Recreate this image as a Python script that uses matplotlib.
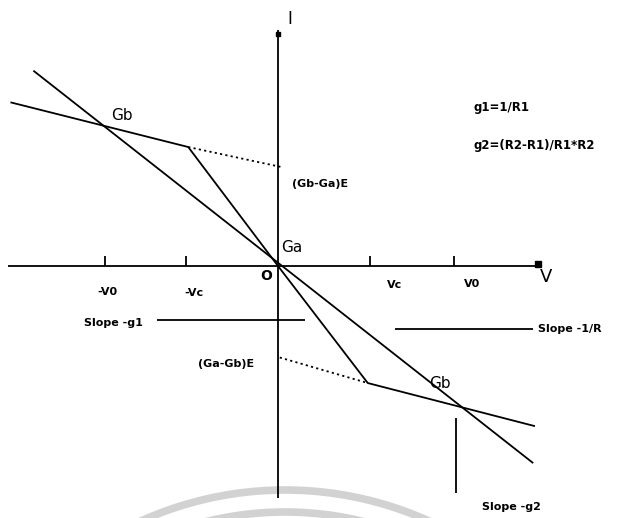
"""Chua diode I-V characteristic with load line (sketch recreation)."""
import matplotlib
matplotlib.use("Agg")
import matplotlib.pyplot as plt
from matplotlib.patches import Arc

# Piecewise-linear characteristic, vertices (V0 = 1)
char_v = [-1.52, -0.51, 0.0, 0.51, 1.46]
char_i = [0.93, 0.676, 0.0, -0.665, -0.91]

# Dotted extensions of the outer segments to the I axis
dot_left_v = [-0.51, 0.03]
dot_left_i = [0.676, 0.56]
dot_right_v = [0.01, 0.51]
dot_right_i = [-0.52, -0.665]

# Load line, slope -1/R
load_v = [-1.39, 1.45]
load_i = [1.11, -1.12]

# Axis extents and tick marks
v_axis = [-1.534, 1.489]
i_axis = [1.34, -1.318]
tick_v = [-0.983, -0.523, 0.523, 1.0]
tick_labels = ["-V0", "-Vc", "Vc", "V0"]
tick_h = 0.057

SCALE = 176.0          # reference pixels per unit
ORIGIN = (278, 266)    # origin in reference pixels
W, H = 628, 518


def px(x, y):
    """reference pixel -> data coords"""
    return (x - ORIGIN[0]) / SCALE, (ORIGIN[1] - y) / SCALE


fig = plt.figure(figsize=(W / 100, H / 100), dpi=100)
ax = fig.add_axes([0, 0, 1, 1])
ax.set_xlim(-ORIGIN[0] / SCALE, (W - ORIGIN[0]) / SCALE)
ax.set_ylim(-(H - ORIGIN[1]) / SCALE, ORIGIN[1] / SCALE)
ax.axis("off")

# faint watermark arcs at the bottom
cx, cy = px(285, 840)
for r in (350, 328):
    ax.add_patch(Arc((cx, cy), 2 * r / SCALE, 2 * r / SCALE, theta1=55, theta2=125,
                     color="#d2d2d2", lw=5.5, zorder=0))

k = dict(color="black", lw=1.3, solid_capstyle="butt")

# axes
ax.plot(v_axis, [0, 0], **k)
ax.plot([0, 0], i_axis, **k)
ax.plot([v_axis[1] - 0.01], [0.012], marker="s", ms=4.5, color="black")
ax.plot([0], [i_axis[0] - 0.02], marker="s", ms=3.5, color="black")
for tv in tick_v:
    ax.plot([tv, tv], [0, tick_h], **k)

# curves
ax.plot(char_v, char_i, **k)
ax.plot(load_v, load_i, **k)
ax.plot(dot_left_v, dot_left_i, color="black", lw=1.3, ls=(0, (1.2, 1.8)))
ax.plot(dot_right_v, dot_right_i, color="black", lw=1.3, ls=(0, (1.2, 1.8)))

# leader lines for slope notes
for (x0, y0), (x1, y1) in [((157, 320), (305, 320)),
                           ((395, 329), (533, 329)),
                           ((456, 418), (456, 493))]:
    a, b = px(x0, y0), px(x1, y1)
    ax.plot([a[0], b[0]], [a[1], b[1]], **k)

fam = ["DejaVu Sans"]


def lbl(x, y, s, size=8, ha="center", weight="bold"):
    ax.text(*px(x, y), s, fontsize=size, ha=ha, va="center",
            fontweight=weight, family=fam)


lbl(290, 19, "I", size=12, weight="normal")
lbl(546, 277, "V", size=13, weight="normal")
lbl(266, 276, "O", size=10)
lbl(292, 248, "Ga", size=11, weight="normal")
lbl(122, 115, "Gb", size=11, weight="normal")
lbl(440, 383, "Gb", size=11, weight="normal")

for tl, (x, y) in zip(tick_labels, [(107, 292), (194, 293), (395, 285), (472, 284)]):
    lbl(x, y, tl, size=8)

lbl(113, 323, "Slope -g1")
lbl(226, 364, "(Ga-Gb)E")
lbl(292, 184, "(Gb-Ga)E", ha="left")
lbl(538, 329, "Slope -1/R", ha="left")
lbl(511, 507, "Slope -g2")
lbl(473, 108, "g1=1/R1", size=8.5, ha="left")
lbl(473, 146, "g2=(R2-R1)/R1*R2", size=8.5, ha="left")

fig.savefig("out.png", dpi=100)
